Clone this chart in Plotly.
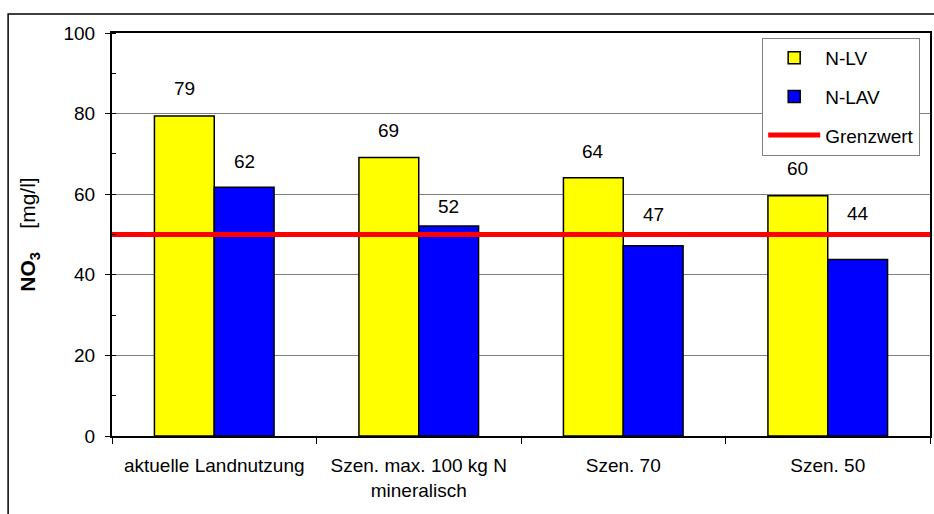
import plotly.graph_objects as go

categories = ["aktuelle Landnutzung", "Szen. max. 100 kg N<br>mineralisch", "Szen. 70", "Szen. 50"]
n_lv = [79.4, 69.1, 64.1, 59.6]
n_lav = [61.7, 52.1, 47.2, 43.8]
grenzwert = 50
y_ticks = [0, 20, 40, 60, 80, 100]

FONT = "Liberation Sans, Arial, sans-serif"
FS = 19
BARGAP = 0.415
# vertical offsets (px) of the value labels above the bar tops, as placed in the original
LV_LABEL_SHIFT = [28, 27, 26, 27]
LAV_LABEL_SHIFT = [26, 20, 31, 46]

fig = go.Figure()
fig.add_trace(go.Bar(name="N-LV", x=categories, y=n_lv, marker=dict(color="#FFFF00", line=dict(color="black", width=1.5)),
                     legendgroup="a"))
fig.add_trace(go.Bar(name="N-LAV", x=categories, y=n_lav, marker=dict(color="#0000FF", line=dict(color="black", width=1.5)),
                     legendgroup="b"))
fig.add_trace(go.Scatter(name="Grenzwert", x=[0, 1], y=[grenzwert, grenzwert], xaxis="x2", mode="lines",
                         line=dict(color="#FF0000", width=5), legendgroup="c"))

half = (1 - BARGAP) / 4
annotations = []
for i, (a, b) in enumerate(zip(n_lv, n_lav)):
    for off, v, sh in ((-half, a, LV_LABEL_SHIFT[i]), (half, b, LAV_LABEL_SHIFT[i])):
        annotations.append(dict(x=i + off, y=v, xref="x", yref="y", text=f"{v:.0f}", showarrow=False,
                                yshift=sh, font=dict(size=FS, color="black", family=FONT)))

fig.update_layout(
    width=934, height=514,
    margin=dict(l=112, r=2, t=33, b=78),
    paper_bgcolor="white", plot_bgcolor="white",
    font=dict(family=FONT, size=FS, color="black"),
    barmode="group", bargap=BARGAP, bargroupgap=0,
    showlegend=True,
    legend=dict(x=0.988, y=0.988, xanchor="right", yanchor="top", bgcolor="white",
                bordercolor="#808080", borderwidth=1, font=dict(size=FS, family=FONT),
                tracegroupgap=11, itemwidth=52),
    xaxis=dict(type="category", tickson="boundaries", ticks="outside", ticklen=6, tickcolor="black",
               showline=True, linecolor="black", linewidth=2, mirror=True, showgrid=False,
               tickfont=dict(size=FS), ticklabelstandoff=11),
    xaxis2=dict(overlaying="x", range=[0, 1], visible=False),
    yaxis=dict(range=[0, 100], tickvals=y_ticks, ticks="outside", ticklen=5, tickcolor="black",
               showline=True, linecolor="black", linewidth=2, mirror=True,
               showgrid=True, gridcolor="#808080", gridwidth=1, zeroline=False,
               minor=dict(dtick=10, ticks="inside", ticklen=4, tickcolor="black", showgrid=False),
               tickfont=dict(size=FS), ticklabelstandoff=6,
               title=dict(text="<b>NO<sub>3</sub></b>\u00a0\u00a0\u00a0\u00a0[mg/l]", font=dict(size=21), standoff=22)),
    annotations=annotations,
    shapes=[dict(type="rect", xref="paper", yref="paper", x0=-0.127, x1=1.01, y0=-0.21, y1=1.047,
                 line=dict(color="black", width=1.5), fillcolor="rgba(0,0,0,0)", layer="below")],
)

fig.write_html("out.html", config={"displayModeBar": False},
               post_script="document.body.style.margin='0';")
